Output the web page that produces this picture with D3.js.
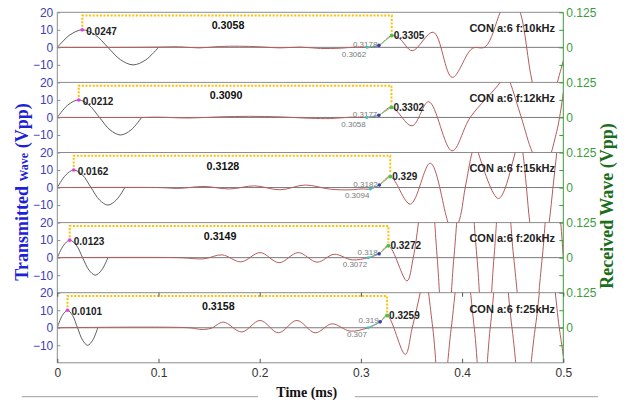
<!DOCTYPE html>
<html>
<head>
<meta charset="utf-8">
<script src="https://cdn.jsdelivr.net/npm/d3@7"></script>
<style>
  html, body { margin: 0; padding: 0; background: #fff; }
  svg { display: block; }
</style>
</head>
<body>
<svg id="chart" width="630" height="406"></svg>
<script>
// ---- data ----------------------------------------------------------------
const panelLabels = ["CON a:6 f:10kHz", "CON a:6 f:12kHz", "CON a:6 f:15kHz", "CON a:6 f:20kHz", "CON a:6 f:25kHz"];

// transmitted burst: one sine cycle per panel (time in ms)
const txTimes = [
  [0, 0.0125, 0.0247, 0.0375, 0.05, 0.0625, 0.075, 0.0875, 0.1],
  [0, 0.0104, 0.0212, 0.0313, 0.0417, 0.0521, 0.0625, 0.0729, 0.0833],
  [0, 0.0083, 0.0162, 0.025, 0.0333, 0.0417, 0.05, 0.0583, 0.0667],
  [0, 0.0063, 0.0123, 0.0188, 0.025, 0.0313, 0.0375, 0.0438, 0.05],
  [0, 0.005, 0.0101, 0.015, 0.02, 0.025, 0.03, 0.035, 0.04]
];
const txVolts = [0, 7.1, 10, 7.1, 0, -7.1, -10, -7.1, 0];

// marked points
const txPeakTime = [0.0247, 0.0212, 0.0162, 0.0123, 0.0101];
const txPeakVolt = 10;
const rxStartTime = [0.3062, 0.3058, 0.3094, 0.3072, 0.307];
const rxMidTime = [0.3178, 0.3177, 0.3182, 0.318, 0.319];
const rxPeakTime = [0.3305, 0.3302, 0.329, 0.3272, 0.3259];

// received waves, [time ms, Vpp]
const rx10 = [[0,0],[0.06,0],[0.10,0.001],[0.12,0.002],[0.14,-0.002],[0.16,0.003],[0.18,0.004],[0.2,0.002],[0.22,-0.002],[0.24,0.001],[0.26,-0.004],[0.28,-0.003],[0.295,0.001],[0.3062,0],[0.3178,0.007],[0.3305,0.042],[0.3385,0.03],[0.3507,-0.012],[0.3715,0.054],[0.3902,-0.107],[0.41,-0.004],[0.4229,0.002],[0.4377,0.125],[0.4476,0.2],[0.4575,0.125],[0.4694,-0.125],[0.4822,-0.28],[0.4941,-0.125],[0.5,-0.048]];
const rx12 = [[0,0],[0.08,0],[0.10,0.001],[0.13,-0.002],[0.16,0.002],[0.19,0.004],[0.22,0.002],[0.25,-0.003],[0.27,-0.004],[0.29,0.001],[0.3058,0],[0.3177,0.008],[0.3302,0.036],[0.3505,-0.03],[0.367,0.056],[0.39,-0.119],[0.408,0],[0.4375,0.125],[0.443,0.165],[0.4475,0.125],[0.4585,0],[0.4695,-0.125],[0.48,-0.19],[0.4935,-0.05],[0.5,0.09]];
const rx15 = [[0,0],[0.10,0],[0.12,-0.003],[0.145,0.004],[0.17,-0.005],[0.195,0.006],[0.22,-0.008],[0.245,0.009],[0.27,-0.006],[0.29,-0.008],[0.3,-0.005],[0.3094,-0.005],[0.3182,0.009],[0.329,0.039],[0.3488,-0.059],[0.3685,0.087],[0.3849,-0.11],[0.3895,-0.16],[0.3964,-0.125],[0.4031,0],[0.4099,0.125],[0.4135,0.16],[0.4163,0.12],[0.436,-0.039],[0.4525,0.125],[0.4565,0.19],[0.46,0.125],[0.4636,0],[0.4669,-0.125],[0.4765,-0.35],[0.486,-0.125],[0.4898,0],[0.4936,0.125],[0.5,0.3]];
const rx20 = [[0,0],[0.12,0],[0.145,-0.004],[0.1628,0.01],[0.1816,-0.015],[0.2004,0.018],[0.2192,-0.018],[0.238,0.018],[0.2568,-0.016],[0.2736,0.012],[0.2914,-0.008],[0.3072,0],[0.318,0.014],[0.3272,0.042],[0.3455,-0.083],[0.3517,0],[0.3569,0.125],[0.3655,0.4],[0.3754,0],[0.3833,-0.4],[0.3919,0],[0.4031,0.4],[0.4147,0],[0.4229,-0.4],[0.4315,0],[0.4412,0.4],[0.451,0],[0.4654,-0.4],[0.4792,0],[0.4891,0.4],[0.5,0]];
const rx25 = [[0,0],[0.13,0],[0.142,-0.006],[0.152,-0.002],[0.1641,0.02],[0.1823,-0.015],[0.2004,0.026],[0.2185,-0.018],[0.2367,0.026],[0.2548,-0.018],[0.2713,0.014],[0.2894,-0.012],[0.307,0],[0.319,0.021],[0.3259,0.044],[0.3438,-0.095],[0.3507,0],[0.3586,0.125],[0.3626,0.2],[0.371,0],[0.3794,-0.3],[0.3893,0],[0.4006,0.3],[0.412,0],[0.4199,-0.3],[0.4278,0],[0.4387,0.3],[0.4493,0],[0.4604,-0.3],[0.4723,0],[0.4842,0.3],[0.496,0],[0.5,-0.1]];
const rxWaves = [rx10, rx12, rx15, rx20, rx25];

// axis ticks
const leftTickValues = [-10, 0, 10, 20];
const rightTickValues = [-0.0625, 0, 0.0625, 0.125];
const rightTickLabels = ["", "0", "", "0.125"];
const xTickValues = [0, 0.1, 0.2, 0.3, 0.4, 0.5];
const xTickLabels = ["0", "0.1", "0.2", "0.3", "0.4", "0.5"];

// ---- layout --------------------------------------------------------------
const plotLeft = 57.3, plotRight = 563.3, panelTop0 = 12.3, panelH = 70.1;
const sans = "'Liberation Sans', Arial, sans-serif";
const serif = "'Liberation Serif', 'Times New Roman', serif";
const leftColor = "#4040b8", rightColor = "#3c9c3c", frameColor = "#8c8c8c";

const svg = d3.select("#chart");
const defs = svg.append("defs");
const x = d3.scaleLinear().domain([0, 0.5]).range([plotLeft, plotRight]);
const curve = d3.curveCatmullRom.alpha(0.5);
const valueAt = (arr, t) => arr.find(p => Math.abs(p[0] - t) < 1e-9)[1];

panelLabels.forEach((caption, i) => {
  const top = panelTop0 + i * panelH;
  const yL = d3.scaleLinear().domain([-20, 20]).range([top + panelH, top]);
  const yR = d3.scaleLinear().domain([-0.125, 0.125]).range([top + panelH, top]);
  const g = svg.append("g");

  defs.append("clipPath").attr("id", "clip" + i)
    .append("rect").attr("x", plotLeft).attr("y", top)
    .attr("width", plotRight - plotLeft).attr("height", panelH);

  // frame: top border
  g.append("line").attr("x1", plotLeft).attr("x2", plotRight)
    .attr("y1", top).attr("y2", top).attr("stroke", frameColor).attr("stroke-width", 1);

  // zero reference line
  g.append("line").attr("x1", plotLeft).attr("x2", plotRight)
    .attr("y1", yL(0)).attr("y2", yL(0)).attr("stroke", "#7a7a7a").attr("stroke-width", 1);

  const plot = g.append("g").attr("clip-path", `url(#clip${i})`);

  // transmitted wave
  const txLine = d3.line().x(d => x(d[0])).y(d => yL(d[1])).curve(curve);
  plot.append("path")
    .attr("d", txLine(txTimes[i].map((t, j) => [t, txVolts[j]])))
    .attr("fill", "none").attr("stroke", "#5e5e5e").attr("stroke-width", 1);

  // received wave
  const rxLine = d3.line().x(d => x(d[0])).y(d => yR(d[1])).curve(curve);
  const rx = rxWaves[i];
  plot.append("path").attr("d", rxLine(rx))
    .attr("fill", "none").attr("stroke", "#b45c5c").attr("stroke-width", 1);

  // highlighted onset segments
  const ts = rxStartTime[i], tm = rxMidTime[i], tp = rxPeakTime[i];
  plot.append("path").attr("d", rxLine(rx.filter(p => p[0] >= ts - 1e-9 && p[0] <= tm + 1e-9)))
    .attr("fill", "none").attr("stroke", "#5cc8c4").attr("stroke-width", 1);
  plot.append("path").attr("d", rxLine(rx.filter(p => p[0] >= tm - 1e-9 && p[0] <= tp + 1e-9)))
    .attr("fill", "none").attr("stroke", "#7ccc6c").attr("stroke-width", 1);

  // delay bracket
  const t0 = txPeakTime[i];
  const vs = valueAt(rx, ts), vm = valueAt(rx, tm), vp = valueAt(rx, tp);
  const yb = top + 3.3;
  g.append("path")
    .attr("d", `M${x(t0)},${yL(txPeakVolt) - 3}V${yb}H${x(tp)}V${yR(vp) - 3}`)
    .attr("fill", "none").attr("stroke", "#ffc000").attr("stroke-width", 2)
    .attr("stroke-dasharray", "2,1.6");
  g.append("text")
    .attr("x", (x(t0) + x(tp)) / 2 - 9).attr("y", top + 17)
    .attr("text-anchor", "middle").attr("font-family", sans).attr("font-weight", "bold")
    .attr("font-size", 10.7).attr("fill", "#111")
    .text((tp - t0).toFixed(4));

  // markers and their labels
  g.append("text").attr("x", x(ts) - 1).attr("y", yR(vs) + 9.5)
    .attr("text-anchor", "end").attr("font-family", sans).attr("font-size", 8).attr("fill", "#7a7a7a")
    .text(String(ts));
  g.append("text").attr("x", x(tm) - 1.5).attr("y", yR(vm) + 1.5)
    .attr("text-anchor", "end").attr("font-family", sans).attr("font-size", 8).attr("fill", "#7a7a7a")
    .text(String(tm));
  g.append("text").attr("x", x(tp) + 2).attr("y", yR(vp) + 3.6)
    .attr("font-family", sans).attr("font-weight", "bold").attr("font-size", 10).attr("fill", "#222")
    .text(String(tp));
  g.append("text").attr("x", x(t0) + 4).attr("y", yL(txPeakVolt) + 5)
    .attr("font-family", sans).attr("font-weight", "bold").attr("font-size", 10).attr("fill", "#222")
    .text(String(t0));

  g.append("circle").attr("cx", x(ts)).attr("cy", yR(vs)).attr("r", 1.5).attr("fill", "#30c8c8");
  g.append("circle").attr("cx", x(tm)).attr("cy", yR(vm)).attr("r", 1.8).attr("fill", "#3a3aa8");
  g.append("circle").attr("cx", x(tp)).attr("cy", yR(vp)).attr("r", 2).attr("fill", "#55c040");
  g.append("circle").attr("cx", x(t0)).attr("cy", yL(txPeakVolt)).attr("r", 1.8).attr("fill", "#e03ce0");

  // panel caption
  g.append("text").attr("x", 555).attr("y", top + 19.8)
    .attr("text-anchor", "end").attr("font-family", sans).attr("font-weight", "bold")
    .attr("font-size", 11).attr("fill", "#222").text(caption);

  // left axis
  const la = g.append("g").attr("transform", `translate(${plotLeft},0)`)
    .call(d3.axisLeft(yL).tickValues(leftTickValues).tickSize(-3).tickPadding(4));
  la.select(".domain").remove();
  la.selectAll("line").attr("stroke", frameColor);
  la.selectAll("text").attr("font-family", sans).attr("font-size", 12).attr("fill", leftColor);

  // right axis
  const ra = g.append("g").attr("transform", `translate(${plotRight},0)`)
    .call(d3.axisRight(yR).tickValues(rightTickValues).tickSize(-4).tickPadding(3)
      .tickFormat((d, j) => rightTickLabels[j]));
  ra.select(".domain").remove();
  ra.selectAll("line").attr("stroke", rightColor);
  ra.selectAll("text").attr("font-family", sans).attr("font-size", 12).attr("fill", rightColor);
});

// outer frame pieces
const bottom = panelTop0 + 5 * panelH;
svg.append("line").attr("x1", plotLeft).attr("x2", plotRight).attr("y1", bottom).attr("y2", bottom)
  .attr("stroke", frameColor);
svg.append("line").attr("x1", plotLeft).attr("x2", plotLeft).attr("y1", panelTop0).attr("y2", bottom)
  .attr("stroke", frameColor);
svg.append("line").attr("x1", plotRight).attr("x2", plotRight).attr("y1", panelTop0).attr("y2", bottom)
  .attr("stroke", rightColor);

// time axis on the bottom panel
const xa = svg.append("g").attr("transform", `translate(0,${bottom})`)
  .call(d3.axisBottom(x).tickValues(xTickValues).tickSize(-4).tickPadding(6)
    .tickFormat((d, j) => xTickLabels[j]));
xa.select(".domain").remove();
xa.selectAll("line").attr("stroke", "#555");
xa.selectAll("text").attr("font-family", sans).attr("font-size", 12).attr("fill", "#333");
const xt = svg.append("g").attr("transform", `translate(0,${panelTop0 + 4 * panelH})`)
  .call(d3.axisTop(x).tickValues(xTickValues).tickSize(-4).tickFormat(""));
xt.select(".domain").remove();
xt.selectAll("line").attr("stroke", "#555");

// axis titles
const lt = svg.append("text").attr("transform", "translate(28,192) rotate(-90)")
  .attr("text-anchor", "middle").attr("font-family", serif).attr("font-weight", "bold")
  .attr("fill", "#1f1fd8");
lt.append("tspan").attr("font-size", 18).text("Transmitted ");
lt.append("tspan").attr("font-size", 12).text("Wave");
lt.append("tspan").attr("font-size", 18).text(" (Vpp)");

const rt = svg.append("text").attr("transform", "translate(613,206) rotate(-90)")
  .attr("text-anchor", "middle").attr("font-family", serif).attr("font-weight", "bold")
  .attr("fill", "#1b6e1b");
rt.append("tspan").attr("font-size", 18).text("Received ");
rt.append("tspan").attr("font-size", 18).text("Wave");
rt.append("tspan").attr("font-size", 18).text(" (Vpp)");

svg.append("text").attr("x", 306.7).attr("y", 397)
  .attr("text-anchor", "middle").attr("font-family", serif).attr("font-weight", "bold")
  .attr("font-size", 14).attr("fill", "#111").text("Time (ms)");
svg.append("line").attr("x1", 21.7).attr("x2", 258).attr("y1", 396.7).attr("y2", 396.7)
  .attr("stroke", "#a0a0a0");
svg.append("line").attr("x1", 355).attr("x2", 598).attr("y1", 396.7).attr("y2", 396.7)
  .attr("stroke", "#a0a0a0");
</script>
</body>
</html>
